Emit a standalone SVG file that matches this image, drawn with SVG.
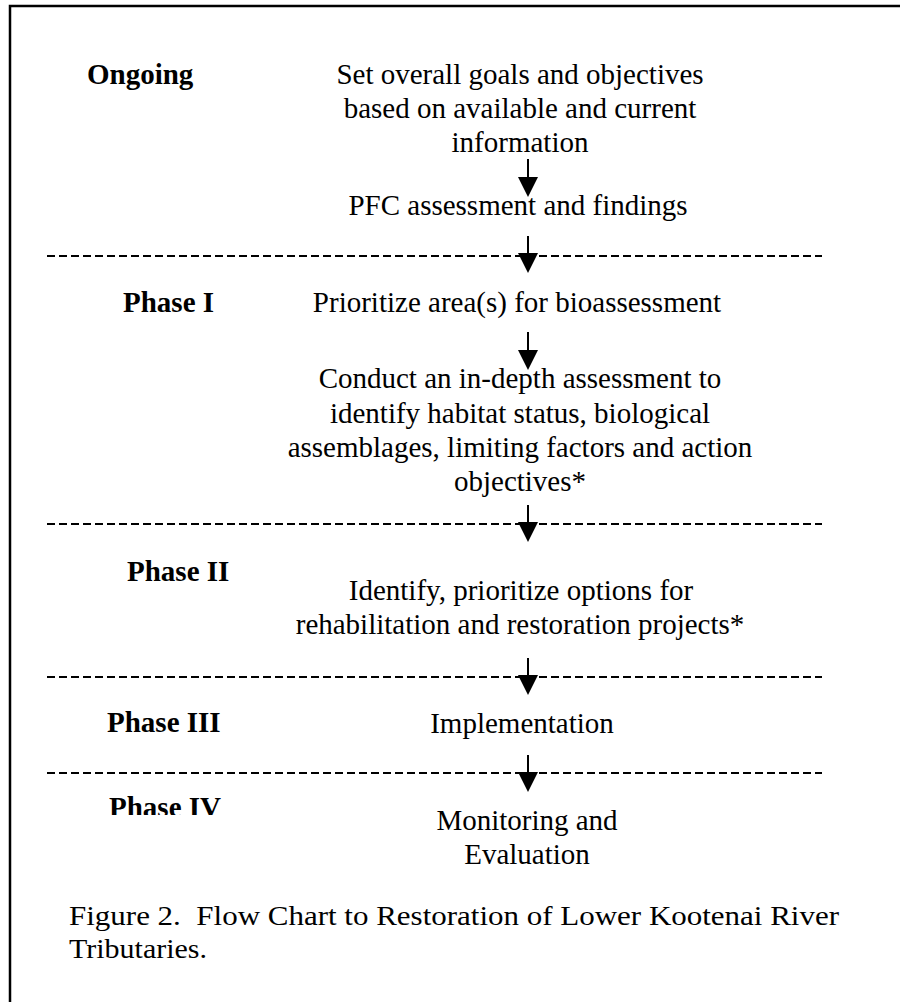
<svg xmlns="http://www.w3.org/2000/svg" width="900" height="1002" viewBox="0 0 900 1002">
<style>
.t{font-family:"Liberation Serif","Times New Roman",serif;font-size:29px;fill:#000;text-anchor:middle}
.lb{font-family:"Liberation Serif","Times New Roman",serif;font-size:29px;font-weight:bold;fill:#000}
.cap{font-family:"Liberation Serif","Times New Roman",serif;font-size:28px;fill:#000}
.dash{stroke:#000;stroke-width:2;stroke-dasharray:8 4;fill:none}
.ln{stroke:#000;stroke-width:2;fill:none}
.hd{fill:#000}
</style>
<defs>
<clipPath id="clip4"><rect x="0" y="780" width="400" height="35"/></clipPath>
</defs>
<rect width="900" height="1002" fill="#fff"/>
<g id="frame">
<path d="M10,1002 V6 H900" fill="none" stroke="#000" stroke-width="2.5"/>
</g>
<g id="separators">
<line class="dash" x1="47" y1="256" x2="822" y2="256"/>
<line class="dash" x1="47" y1="524" x2="822" y2="524"/>
<line class="dash" x1="47" y1="677" x2="822" y2="677"/>
<line class="dash" x1="47" y1="773" x2="822" y2="773"/>
</g>
<g id="label-ongoing"><text class="lb" x="87" y="84">Ongoing</text></g>
<g id="label-phase1"><text class="lb" x="123" y="312">Phase I</text></g>
<g id="label-phase2"><text class="lb" x="127" y="581">Phase II</text></g>
<g id="label-phase3"><text class="lb" x="107" y="732">Phase III</text></g>
<g id="label-phase4" clip-path="url(#clip4)"><text class="lb" x="109" y="817">Phase IV</text></g>
<g id="node-goals">
<text class="t" x="520" y="84">Set overall goals and objectives</text>
<text class="t" x="520" y="118">based on available and current</text>
<text class="t" x="520" y="152">information</text>
</g>
<g id="node-pfc"><text class="t" x="518" y="215">PFC assessment and findings</text></g>
<g id="node-prioritize"><text class="t" x="517" y="312">Prioritize area(s) for bioassessment</text></g>
<g id="node-conduct">
<text class="t" x="520" y="388">Conduct an in-depth assessment to</text>
<text class="t" x="520" y="423">identify habitat status, biological</text>
<text class="t" x="520" y="457">assemblages, limiting factors and action</text>
<text class="t" x="520" y="491">objectives*</text>
</g>
<g id="node-identify">
<text class="t" x="521" y="600">Identify, prioritize options for</text>
<text class="t" x="520" y="634">rehabilitation and restoration projects*</text>
</g>
<g id="node-implementation"><text class="t" x="522" y="733">Implementation</text></g>
<g id="node-monitoring">
<text class="t" x="527" y="830">Monitoring and</text>
<text class="t" x="527" y="864">Evaluation</text>
</g>
<g id="connectors">
<line class="ln" x1="528" y1="159" x2="528" y2="178"/><polygon class="hd" points="518,177 538,177 528,197"/>
<line class="ln" x1="528" y1="236" x2="528" y2="254"/><polygon class="hd" points="518,253 538,253 528,273"/>
<line class="ln" x1="528" y1="332" x2="528" y2="351"/><polygon class="hd" points="518,350 538,350 528,370"/>
<line class="ln" x1="528" y1="505" x2="528" y2="523"/><polygon class="hd" points="518,522 538,522 528,542"/>
<line class="ln" x1="528" y1="658" x2="528" y2="676"/><polygon class="hd" points="518,675 538,675 528,695"/>
<line class="ln" x1="528" y1="755" x2="528" y2="773"/><polygon class="hd" points="518,772 538,772 528,792"/>
</g>
<g id="caption">
<text class="cap" x="69" y="925" xml:space="preserve" textLength="770" lengthAdjust="spacingAndGlyphs">Figure 2.  Flow Chart to Restoration of Lower Kootenai River</text>
<text class="cap" x="69" y="958" textLength="138" lengthAdjust="spacingAndGlyphs">Tributaries.</text>
</g>
</svg>
